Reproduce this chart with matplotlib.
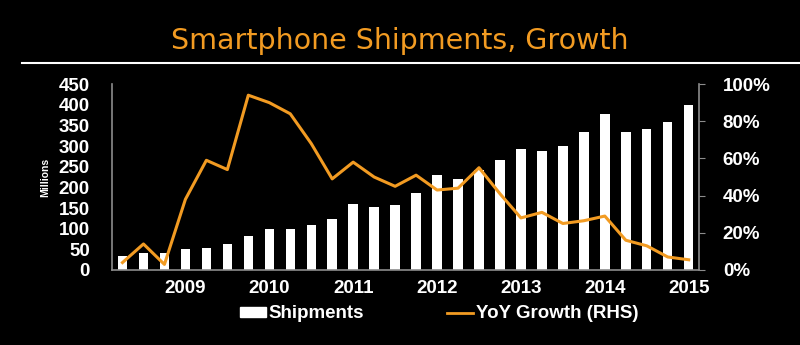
import matplotlib
matplotlib.use("Agg")
import matplotlib.pyplot as plt
from matplotlib.patches import Patch
from matplotlib.lines import Line2D

# quarterly data, Q1 2009 .. Q4 2015
shipments = [34, 42, 41, 52, 54, 64, 83, 100, 100, 108, 123, 160, 153, 157,
             187, 229, 219, 242, 265, 292, 288, 301, 333, 378, 334, 341, 357, 399]
growth = [4, 14, 3, 38, 59, 54, 94, 90, 84, 68, 49, 58, 50, 45,
          51, 43, 44, 55, 41, 28, 31, 25, 26.5, 29, 16, 13, 7, 5.5]
years = ["2009", "2010", "2011", "2012", "2013", "2014", "2015"]
left_ticks = [0, 50, 100, 150, 200, 250, 300, 350, 400, 450]
right_ticks = [0, 20, 40, 60, 80, 100]

orange = "#F29B22"
grey = "#8c8c8c"
tickfont = dict(family="Liberation Sans", weight="bold", size=13.5)

fig = plt.figure(figsize=(8, 3.45), dpi=100, facecolor="black")
ax = fig.add_axes([0.14, 0.2174, 0.734, 0.539], facecolor="black")
x = list(range(len(shipments)))
ax.bar(x, shipments, width=0.45, color="white", zorder=2)
ax.set_xlim(-0.5, 27.5)
ax.set_ylim(0, 450)
ax.set_yticks(left_ticks)
ax.set_yticklabels([str(v) for v in left_ticks], color="white", fontdict=tickfont)
ax.set_xticks([3 + 4 * i for i in range(len(years))])
ax.set_xticklabels(years, color="white", fontdict=tickfont)
ax.tick_params(axis="y", length=0, pad=16)
ax.tick_params(axis="x", length=0, pad=7)
for s in ["top", "right"]:
    ax.spines[s].set_visible(False)
for s in ["left", "bottom"]:
    ax.spines[s].set_color(grey)
    ax.spines[s].set_linewidth(1.2)
ax.set_ylabel("Millions", color="white", fontsize=7.5, fontweight="bold",
              family="Liberation Sans", labelpad=6)

ax2 = ax.twinx()
ax2.plot(x, [g / 100 for g in growth], color=orange, linewidth=2.2, zorder=3)
ax2.set_ylim(0, 1)
ax2.set_yticks([v / 100 for v in right_ticks])
ax2.set_yticklabels([f"{v}%" for v in right_ticks], color="white", fontdict=tickfont)
ax2.tick_params(axis="y", length=4, color=grey, pad=13)
for s in ["top", "left", "bottom"]:
    ax2.spines[s].set_visible(False)
ax2.spines["right"].set_color(grey)
ax2.spines["right"].set_linewidth(1.2)

fig.text(0.5, 0.858, "Smartphone Shipments, Growth", color=orange,
         fontsize=20.5, family="DejaVu Sans", ha="center", va="baseline")
fig.add_artist(Line2D([0.028, 1.0], [0.8165, 0.8165], color="white", linewidth=1.5))

handles = [Patch(facecolor="white", edgecolor="white"),
           Line2D([0], [0], color=orange, linewidth=2)]
leg = fig.legend(handles, ["Shipments", "YoY Growth (RHS)"], loc="center",
                 bbox_to_anchor=(0.549, 0.09), ncol=2, frameon=False,
                 prop=dict(family="Liberation Sans", weight="bold", size=13.5),
                 handlelength=1.4, handleheight=0.45, handletextpad=0.15,
                 columnspacing=4.4)
for t in leg.get_texts():
    t.set_color("white")

fig.savefig("out.png", dpi=100, facecolor="black")
